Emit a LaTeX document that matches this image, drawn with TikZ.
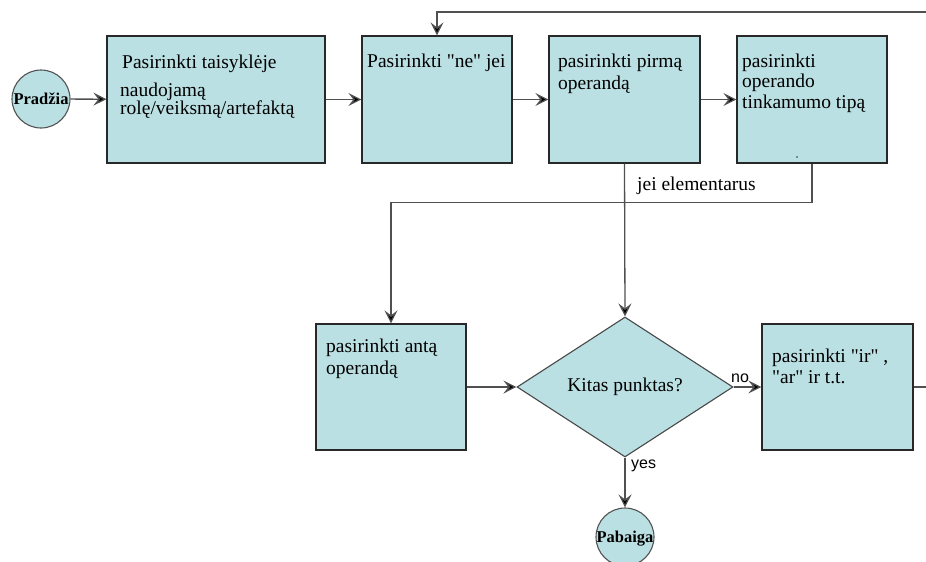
\documentclass[tikz,border=0pt]{standalone}
\usepackage{fontspec}
\setmainfont{Liberation Serif}[Ligatures=TeXOff]
\newfontfamily\labelsans{Liberation Sans}
\usetikzlibrary{arrows.meta,shapes.geometric}
\definecolor{boxfill}{RGB}{187,224,227}
\definecolor{boxline}{RGB}{40,40,40}
\definecolor{wire}{RGB}{80,80,80}
\begin{document}
\begin{tikzpicture}[x=1pt,y=-1pt,
  stepbox/.style={draw=boxline, line width=1.2pt, fill=boxfill, rectangle,
    inner sep=0pt, minimum width=150pt, minimum height=127pt},
  terminal/.style={draw=boxline!80, line width=1.1pt, fill=boxfill, circle,
    inner sep=0pt, minimum size=58pt},
  decision/.style={draw=boxline!85, line width=1.1pt, fill=boxfill, diamond,
    inner sep=0pt, aspect=1.54, minimum width=216pt, minimum height=140pt,
    font=\fontsize{19.5}{22}\selectfont},
  line/.style={anchor=base west, inner sep=0pt, font=\fontsize{19.5}{22}\selectfont},
  termtext/.style={anchor=base, inner sep=0pt, font=\fontsize{16.5}{18}\selectfont\bfseries},
  wirelabel/.style={anchor=base west, inner sep=0pt, font=\labelsans\fontsize{16}{18}\selectfont},
  flow/.style={draw=wire, line width=1.3pt,
    -{Stealth[length=13pt,width=13pt,inset=5pt,fill=black]}},
  plain/.style={draw=wire, line width=1.3pt}
]
\useasboundingbox (0,0) rectangle (926,562);

% start / end
\node[terminal] (start) at (41,99) {};
\node[termtext] (starttxt) at (41,104) {Pradžia};
\node[terminal] (stop) at (625,537) {};
\node[termtext] (stoptxt) at (625,542) {Pabaiga};

% upper row of steps
\node[stepbox, minimum width=218pt] (b1) at (216,99.5) {};
\node[stepbox] (b2) at (437,99.5) {};
\node[stepbox, minimum width=151pt] (b3) at (624.5,99.5) {};
\node[stepbox] (b4) at (812,99.5) {};

% lower row
\node[stepbox, minimum height=126pt] (b5) at (391,387) {};
\node[decision] (dec) at (625,387) {Kitas punktas?};
\node[stepbox, minimum width=151pt, minimum height=126pt] (b6) at (837.5,387) {};

% texts in the steps
\node[line] (t1a) at (122,68) {Pasirinkti taisyklėje};
\node[line] (t1b) at (120,96) {naudojamą};
\node[line] (t1c) at (120,114) {rolę/veiksmą/artefaktą};
\node[line] (t2a) at (367,67) {Pasirinkti "ne" jei};
\node[line] (t3a) at (558,67) {pasirinkti pirmą};
\node[line] (t3b) at (558,89) {operandą};
\node[line] (t4a) at (742,67) {pasirinkti};
\node[line] (t4b) at (742,87) {operando};
\node[line] (t4c) at (742,108) {tinkamumo tipą};
\fill[black!80] (797,157) circle (0.9pt);
\node[line] (t5a) at (326,352) {pasirinkti antą};
\node[line] (t5b) at (326,374) {operandą};
\node[line] (t6a) at (772,362) {pasirinkti "ir" ,};
\node[line] (t6b) at (772,383) {"ar" ir t.t.};

% free ends at the right margin
\coordinate (backin) at (926,12);
\coordinate (onward) at (926,387);

% connectors
\draw[flow] (start) -- (b1);
\draw[flow] (b1) -- (b2);
\draw[flow] (b2) -- (b3);
\draw[flow] (b3) -- (b4);
\draw[flow] (backin) -| (b2.north);
\draw[flow] (b4.south) -- ++(0,39) -| (b5.north);
\draw[flow] (b3.south) -- (dec.north);
\node[line] (elem) at (637,190) {jei elementarus};
\draw[flow] (b5.east) -- (dec.west);
\draw[flow] (dec.east) -- (b6.west);
\node[wirelabel] (nolbl) at (731,382) {no};
\draw[flow] (dec.south) -- (stop.north);
\node[wirelabel] (yeslbl) at (631,468) {yes};
\draw[plain] (b6.east) -- (onward);
\end{tikzpicture}
\end{document}
